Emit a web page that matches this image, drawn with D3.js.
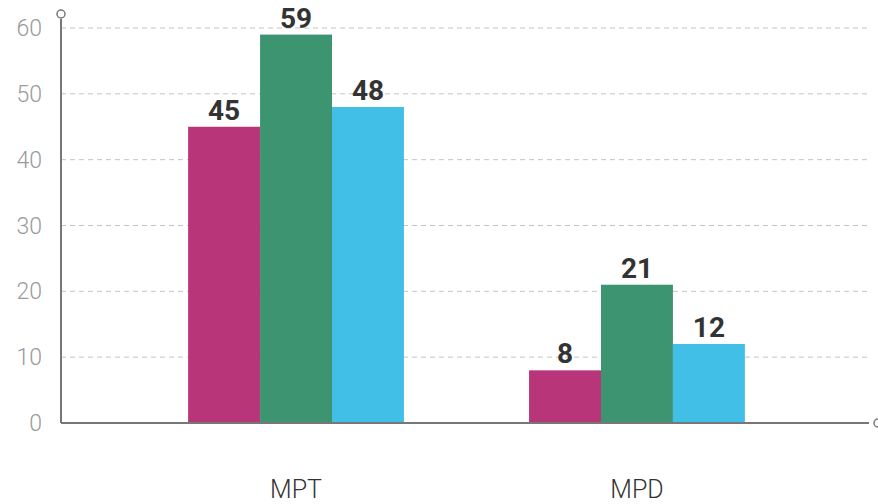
<!DOCTYPE html>
<html>
<head>
<meta charset="utf-8">
<script src="https://cdn.jsdelivr.net/npm/d3@7"></script>
<style>
  body { margin: 0; background: #fff; }
  svg text { font-family: "Roboto", "DejaVu Sans", sans-serif; }
</style>
</head>
<body>
<div id="chart"></div>
<script>
// data
var categories = ["MPT", "MPD"];
var seriesNames = ["s1", "s2", "s3"];
var seriesColors = ["#B8357A", "#3D9470", "#42BFE6"];
var values = [
    [45, 59, 48],
    [8, 21, 12]
];
var yTicks = [0, 10, 20, 30, 40, 50, 60];

var width = 878, height = 504;
var margin = {top: 28, right: 10, bottom: 81, left: 61};

var svg = d3.select("#chart").append("svg")
    .attr("width", width)
    .attr("height", height);

var x0 = d3.scaleBand()
    .domain(categories)
    .range([margin.left + 2, width - margin.right + 2])
    .padding(0.367);

var x1 = d3.scaleBand()
    .domain(seriesNames)
    .range([0, x0.bandwidth()]);

var y = d3.scaleLinear()
    .domain([0, 60])
    .range([height - margin.bottom, margin.top]);

// gridlines
svg.append("g").selectAll("line")
    .data(yTicks.filter(function (d) { return d > 0; }))
    .enter().append("line")
    .attr("x1", margin.left)
    .attr("x2", width - margin.right)
    .attr("y1", function (d) { return y(d); })
    .attr("y2", function (d) { return y(d); })
    .attr("stroke", "#c4c4c4")
    .attr("stroke-width", 1)
    .attr("stroke-dasharray", "5,4");

// tick labels
svg.append("g").selectAll("text")
    .data(yTicks)
    .enter().append("text")
    .attr("x", 42)
    .attr("y", function (d) { return y(d); })
    .attr("dy", "0.35em")
    .attr("text-anchor", "end")
    .attr("fill", "#9a9a9a")
    .attr("font-size", 23)
    .attr("font-weight", 300)
    .text(function (d) { return d; });

// bars
var groups = svg.append("g").selectAll("g")
    .data(values)
    .enter().append("g")
    .attr("transform", function (d, i) { return "translate(" + x0(categories[i]) + ",0)"; });

groups.selectAll("rect")
    .data(function (d) { return d; })
    .enter().append("rect")
    .attr("x", function (d, i) { return x1(seriesNames[i]); })
    .attr("y", function (d) { return y(d); })
    .attr("width", x1.bandwidth())
    .attr("height", function (d) { return y(0) - y(d); })
    .attr("fill", function (d, i) { return seriesColors[i]; });

groups.selectAll("text")
    .data(function (d) { return d; })
    .enter().append("text")
    .attr("x", function (d, i) { return x1(seriesNames[i]) + x1.bandwidth() / 2; })
    .attr("y", function (d) { return y(d) - 7; })
    .attr("text-anchor", "middle")
    .attr("fill", "#333")
    .attr("font-size", 28)
    .attr("font-weight", "bold")
    .text(function (d) { return d; });

// category labels
svg.append("g").selectAll("text")
    .data(categories)
    .enter().append("text")
    .attr("x", function (d) { return x0(d) + x0.bandwidth() / 2; })
    .attr("y", 498)
    .attr("text-anchor", "middle")
    .attr("fill", "#333")
    .attr("font-size", 25)
    .attr("font-weight", 300)
    .text(function (d) { return d; });

// axes
svg.append("line")
    .attr("x1", margin.left).attr("x2", margin.left)
    .attr("y1", 19).attr("y2", y(0))
    .attr("stroke", "#777").attr("stroke-width", 2);
svg.append("line")
    .attr("x1", margin.left).attr("x2", 869)
    .attr("y1", y(0)).attr("y2", y(0))
    .attr("stroke", "#777").attr("stroke-width", 2);
svg.append("circle")
    .attr("cx", margin.left).attr("cy", 14).attr("r", 4)
    .attr("fill", "none").attr("stroke", "#777").attr("stroke-width", 1.5);
svg.append("circle")
    .attr("cx", 878).attr("cy", y(0)).attr("r", 4)
    .attr("fill", "none").attr("stroke", "#777").attr("stroke-width", 1.5);
</script>
</body>
</html>
